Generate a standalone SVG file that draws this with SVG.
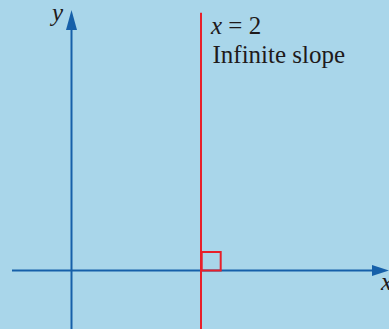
<svg xmlns="http://www.w3.org/2000/svg" width="389" height="329" viewBox="0 0 389 329">
<style>
.ax{stroke:#1660a9;stroke-width:2;fill:none}
.ah{fill:#1660a9}
.red{stroke:#e8202a;stroke-width:2;fill:none}
.t{font-family:"Liberation Serif",serif;font-size:25px;fill:#1f1a1a}
.i{font-style:italic}
</style>
<rect width="389" height="329" fill="#a9d6ea"/>
<g id="connectors">
<line class="ax" x1="71.5" y1="329" x2="71.5" y2="26"/>
<polygon class="ah" points="71.5,10 66,30 77,30"/>
<line class="ax" x1="12" y1="270.5" x2="374" y2="270.5"/>
<polygon class="ah" points="389,270.5 372,265 372,276"/>
</g>
<g id="line-x2">
<line class="red" x1="201" y1="12.7" x2="201" y2="329"/>
<rect class="red" x="201.7" y="252" width="19" height="18.5"/>
</g>
<g id="label-y"><text class="t i" x="52" y="21">y</text></g>
<g id="label-x"><text class="t i" x="381" y="290">x</text></g>
<g id="label-eq">
<text class="t" x="211" y="34"><tspan class="i">x</tspan> = 2</text>
<text class="t" x="212.5" y="63">Infinite slope</text>
</g>
</svg>
